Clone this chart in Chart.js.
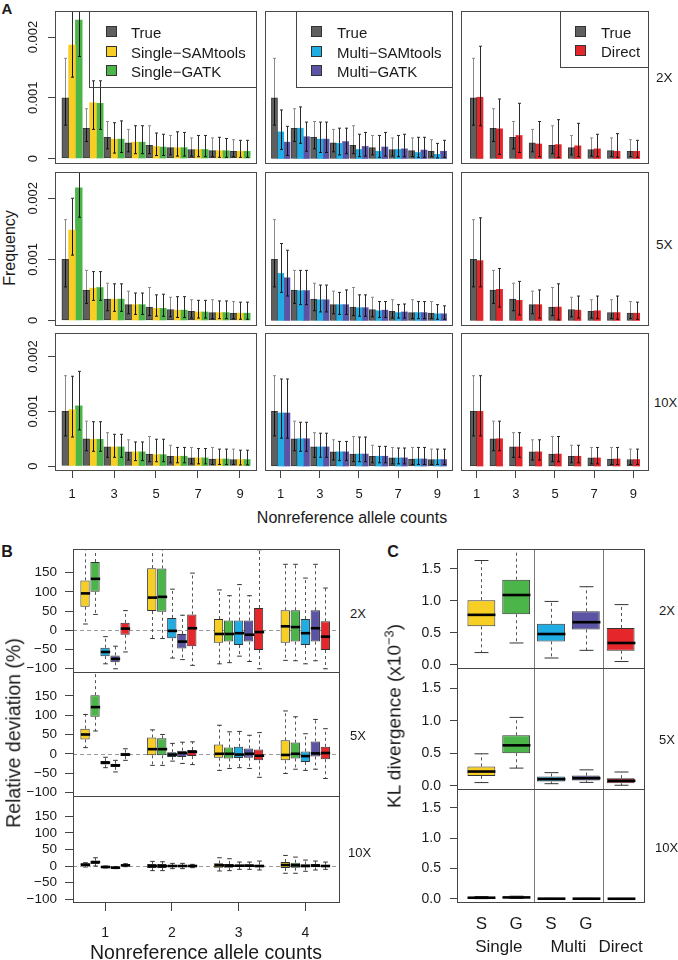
<!DOCTYPE html>
<html>
<head>
<meta charset="utf-8">
<title>Allele frequency spectrum comparison</title>
<script src="https://cdn.jsdelivr.net/npm/chart.js@4.4.1/dist/chart.umd.min.js"></script>
<style>
  html, body { margin: 0; padding: 0; background: #ffffff; }
  #wrap { position: relative; width: 678px; height: 960px; overflow: hidden; background: #ffffff;
          font-family: "Liberation Sans", Arial, Helvetica, sans-serif; color: #1a1a1a; }
  #wrap canvas { position: absolute; }
  .t { position: absolute; white-space: nowrap; line-height: 1; }
  .c { transform: translate(-50%, -50%); }
  .l { transform: translate(0, -50%); }
  .r90 { transform: translate(-50%, -50%) rotate(-90deg); }
  .legend { position: absolute; border: 1px solid #444; box-sizing: border-box; }
  .legend .sw { position: absolute; width: 11px; height: 11px; border: 1px solid #333; box-sizing: border-box; }
  .legend .lt { position: absolute; font-size: 15px; line-height: 1; transform: translate(0, -50%); white-space: nowrap; }
  sup { font-size: 0.68em; line-height: 0; vertical-align: 0.55em; }
</style>
</head>
<body>
<div id="wrap"></div>
<script>
// ======================= DATA =======================
// Panel A: x categories and axis ticks
const alleleCounts = [1, 2, 3, 4, 5, 6, 7, 8, 9];
const freqTicks = [0, 0.001, 0.002];
const freqTickLabels = ['0', '0.001', '0.002'];
const countTicks = [1, 3, 5, 7, 9];
const countTickLabels = ['1', '3', '5', '7', '9'];
const depthLabels = ['2X', '5X', '10X'];
const legendSingle = ['True', 'Single\u2212SAMtools', 'Single\u2212GATK'];
const legendMulti = ['True', 'Multi\u2212SAMtools', 'Multi\u2212GATK'];
const legendDirect = ['True', 'Direct'];

// True frequencies (mean, lower, upper)
const trueFreq = [0.00100, 0.00050, 0.00035, 0.00026, 0.00022, 0.00018, 0.00015, 0.00013, 0.00012];
const trueLo   = [0.00055, 0.00028, 0.00016, 0.00011, 0.00008, 0.00006, 0.00004, 0.00003, 0.00003];
const trueHi   = [0.00165, 0.00082, 0.00061, 0.00048, 0.00054, 0.00038, 0.00034, 0.00034, 0.00031];

// Single-SAMtools
const singleSam2X   = [0.00187, 0.00092, 0.00032, 0.00027, 0.00020, 0.00018, 0.00015, 0.00013, 0.00012];
const singleSam2XLo = [0.00134, 0.00048, 0.00009, 0.00008, 0.00005, 0.00004, 0.00003, 0.00002, 0.00002];
const singleSam2XHi = [0.00270, 0.00128, 0.00059, 0.00054, 0.00042, 0.00044, 0.00038, 0.00035, 0.00030];
const singleSam5X   = [0.00148, 0.00053, 0.00035, 0.00026, 0.00020, 0.00017, 0.00014, 0.00013, 0.00012];
const singleSam5XLo = [0.00107, 0.00033, 0.00015, 0.00010, 0.00007, 0.00005, 0.00004, 0.00003, 0.00002];
const singleSam5XHi = [0.00200, 0.00080, 0.00060, 0.00045, 0.00042, 0.00039, 0.00033, 0.00032, 0.00030];
const singleSam10X   = [0.00103, 0.00049, 0.00035, 0.00026, 0.00021, 0.00018, 0.00015, 0.00013, 0.00012];
const singleSam10XLo = [0.00053, 0.00027, 0.00016, 0.00010, 0.00008, 0.00006, 0.00004, 0.00003, 0.00002];
const singleSam10XHi = [0.00164, 0.00081, 0.00058, 0.00044, 0.00049, 0.00034, 0.00032, 0.00031, 0.00029];

// Single-GATK
const singleGatk2X   = [0.00228, 0.00091, 0.00032, 0.00027, 0.00019, 0.00018, 0.00015, 0.00013, 0.00012];
const singleGatk2XLo = [0.00168, 0.00048, 0.00010, 0.00008, 0.00005, 0.00004, 0.00003, 0.00002, 0.00002];
const singleGatk2XHi = [0.00300, 0.00128, 0.00062, 0.00054, 0.00040, 0.00043, 0.00038, 0.00033, 0.00030];
const singleGatk5X   = [0.00217, 0.00054, 0.00035, 0.00026, 0.00020, 0.00017, 0.00014, 0.00013, 0.00012];
const singleGatk5XLo = [0.00169, 0.00033, 0.00015, 0.00010, 0.00007, 0.00005, 0.00004, 0.00003, 0.00002];
const singleGatk5XHi = [0.00270, 0.00080, 0.00060, 0.00045, 0.00043, 0.00039, 0.00033, 0.00032, 0.00030];
const singleGatk10X   = [0.00110, 0.00049, 0.00035, 0.00026, 0.00021, 0.00018, 0.00015, 0.00013, 0.00012];
const singleGatk10XLo = [0.00066, 0.00027, 0.00016, 0.00010, 0.00008, 0.00006, 0.00004, 0.00003, 0.00002];
const singleGatk10XHi = [0.00173, 0.00081, 0.00058, 0.00044, 0.00049, 0.00034, 0.00032, 0.00031, 0.00029];

// Multi-SAMtools
const multiSam2X   = [0.00044, 0.00050, 0.00032, 0.00025, 0.00015, 0.00012, 0.00015, 0.00010, 0.00007];
const multiSam2XLo = [0.00015, 0.00025, 0.00010, 0.00006, 0.00003, 0.00002, 0.00003, 0.00002, 0.00001];
const multiSam2XHi = [0.00080, 0.00085, 0.00060, 0.00050, 0.00040, 0.00038, 0.00038, 0.00035, 0.00025];
const multiSam5X   = [0.00077, 0.00049, 0.00034, 0.00026, 0.00021, 0.00016, 0.00013, 0.00013, 0.00011];
const multiSam5XLo = [0.00046, 0.00026, 0.00014, 0.00010, 0.00007, 0.00005, 0.00004, 0.00003, 0.00002];
const multiSam5XHi = [0.00126, 0.00082, 0.00058, 0.00046, 0.00042, 0.00031, 0.00026, 0.00031, 0.00026];
const multiSam10X   = [0.00097, 0.00050, 0.00035, 0.00026, 0.00022, 0.00018, 0.00015, 0.00013, 0.00012];
const multiSam10XLo = [0.00051, 0.00027, 0.00016, 0.00010, 0.00008, 0.00006, 0.00004, 0.00003, 0.00003];
const multiSam10XHi = [0.00159, 0.00080, 0.00060, 0.00045, 0.00053, 0.00036, 0.00033, 0.00034, 0.00031];

// Multi-GATK
const multiGatk2X   = [0.00027, 0.00036, 0.00032, 0.00028, 0.00020, 0.00019, 0.00016, 0.00014, 0.00012];
const multiGatk2XLo = [0.00005, 0.00012, 0.00010, 0.00008, 0.00004, 0.00004, 0.00003, 0.00002, 0.00002];
const multiGatk2XHi = [0.00053, 0.00060, 0.00060, 0.00050, 0.00043, 0.00043, 0.00040, 0.00035, 0.00030];
const multiGatk5X   = [0.00070, 0.00049, 0.00034, 0.00026, 0.00021, 0.00017, 0.00014, 0.00013, 0.00011];
const multiGatk5XLo = [0.00040, 0.00026, 0.00014, 0.00010, 0.00007, 0.00005, 0.00004, 0.00003, 0.00002];
const multiGatk5XHi = [0.00115, 0.00082, 0.00058, 0.00050, 0.00042, 0.00031, 0.00027, 0.00031, 0.00024];
const multiGatk10X   = [0.00097, 0.00050, 0.00035, 0.00026, 0.00022, 0.00018, 0.00015, 0.00013, 0.00012];
const multiGatk10XLo = [0.00051, 0.00027, 0.00016, 0.00010, 0.00008, 0.00006, 0.00004, 0.00003, 0.00003];
const multiGatk10XHi = [0.00159, 0.00080, 0.00060, 0.00045, 0.00053, 0.00036, 0.00033, 0.00034, 0.00031];

// Direct
const direct2X   = [0.00101, 0.00049, 0.00038, 0.00024, 0.00023, 0.00021, 0.00016, 0.00012, 0.00012];
const direct2XLo = [0.00054, 0.00007, 0.00010, 0.00003, 0.00002, 0.00003, 0.00003, 0.00002, 0.00002];
const direct2XHi = [0.00185, 0.00098, 0.00091, 0.00061, 0.00064, 0.00058, 0.00040, 0.00041, 0.00030];
const direct5X   = [0.00098, 0.00051, 0.00033, 0.00026, 0.00022, 0.00017, 0.00016, 0.00013, 0.00012];
const direct5XLo = [0.00055, 0.00022, 0.00009, 0.00004, 0.00001, 0.00004, 0.00003, 0.00002, 0.00002];
const direct5XHi = [0.00168, 0.00085, 0.00064, 0.00050, 0.00060, 0.00040, 0.00040, 0.00040, 0.00030];
const direct10X   = [0.00100, 0.00050, 0.00035, 0.00026, 0.00022, 0.00018, 0.00015, 0.00013, 0.00012];
const direct10XLo = [0.00055, 0.00028, 0.00016, 0.00011, 0.00008, 0.00006, 0.00004, 0.00003, 0.00003];
const direct10XHi = [0.00165, 0.00082, 0.00061, 0.00048, 0.00054, 0.00038, 0.00034, 0.00034, 0.00031];

// Panel B: relative deviation (%) boxplots, per allele count 1..4: [whiskerLow, Q1, median, Q3, whiskerHigh]
const devCounts = [1, 2, 3, 4];
const devTicks = [-100, -50, 0, 50, 100, 150];
const devTickLabels = ['\u2212100', '\u221250', '0', '50', '100', '150'];
const devSingleSam2X  = [[16, 61, 96, 130, 260], [-22, 50, 85, 162, 260], [-88, -33, -10, 29, 105], [-79, -33, 10, 52, 172]];
const devSingleGatk2X = [[41, 100, 134, 178, 260], [-22, 48, 87, 161, 260], [-85, -30, -10, 25, 90], [-80, -30, 8, 52, 172]];
const devMultiSam2X   = [[-88, -68, -57, -46, -17], [-73, -21, -2, 32, 107], [-68, -39, -8, 25, 119], [-88, -39, -8, 29, 136]];
const devMultiGatk2X  = [[-101, -84, -75, -66, -42], [-77, -48, -30, -10, 39], [-82, -30, -12, 25, 90], [-80, -30, 5, 52, 172]];
const devDirect2X     = [[-57, -12, 4, 19, 51], [-92, -42, 5, 41, 149], [-101, -52, -5, 58, 210], [-101, -52, -17, 23, 110]];
const devSingleSam5X  = [[16, 37, 50, 65, 102], [-30, -4, 12, 42, 62], [-43, -10, 0, 24, 74], [-51, -17, -3, 35, 111]];
const devSingleGatk5X = [[59, 96, 121, 152, 230], [-30, -4, 12, 40, 50], [-38, -12, 0, 16, 57], [-40, -12, 0, 29, 96]];
const devMultiSam5X   = [[-36, -28, -23, -19, -9], [-19, -8, -2, 4, 27], [-36, -11, -2, 18, 58], [-43, -21, -6, 6, 52]];
const devMultiGatk5X  = [[-47, -34, -30, -26, -17], [-25, -8, 2, 8, 30], [-38, -10, 0, 14, 48], [-40, -7, 1, 32, 89]];
const devDirect5X     = [[-17, -6, -2, 3, 13], [-28, -6, 5, 10, 31], [-61, -17, -5, 11, 55], [-64, -14, 2, 18, 65]];
const devSingleSam10X  = [[-3, 0, 4, 8, 10], [-14, -6, 0, 6, 14], [-15, -5, 2, 8, 25], [-22, -6, 3, 12, 32]];
const devSingleGatk10X = [[0, 6, 12, 16, 25], [-14, -6, 0, 6, 13], [-14, -5, 1, 6, 22], [-22, -5, 2, 10, 27]];
const devMultiSam10X   = [[-6, -5, -3, -1, 0], [-8, -3, 0, 3, 8], [-10, -3, 1, 4, 12], [-16, -4, 0, 5, 18]];
const devMultiGatk10X  = [[-8, -7, -5, -3, -2], [-8, -3, 0, 3, 8], [-10, -3, 1, 5, 12], [-12, -4, 1, 6, 15]];
const devDirect10X     = [[-2, 0, 2, 4, 7], [-5, -2, 0, 2, 5], [-12, -4, 0, 4, 15], [-10, -3, 0, 4, 12]];

// Panel C: KL divergence (x10^-3), methods S,G (Single), S,G (Multi), Direct: [low, Q1, median, Q3, high]
const klPositions = [1, 2, 3, 4, 5];
const klTicks = [0, 0.5, 1, 1.5];
const klTickLabels = ['0.0', '0.5', '1.0', '1.5'];
const klMethodLabels = ['S', 'G', 'S', 'G'];
const klGroupLabels = ['Single', 'Multi', 'Direct'];
const kl2X  = [[0.19, 0.60, 0.78, 1.01, 1.63], [0.34, 0.79, 1.09, 1.33, 1.95], [0.105, 0.365, 0.48, 0.64, 0.99], [0.225, 0.55, 0.665, 0.835, 1.22], [0.05, 0.22, 0.34, 0.575, 0.94]];
const kl5X  = [[0.047, 0.15, 0.217, 0.295, 0.49], [0.27, 0.50, 0.62, 0.775, 1.05], [0.03, 0.062, 0.10, 0.14, 0.20], [0.05, 0.078, 0.115, 0.155, 0.243], [0.006, 0.037, 0.075, 0.115, 0.21]];
const kl10X = [[0.005, 0.012, 0.02, 0.028, 0.04], [0.008, 0.015, 0.025, 0.033, 0.045], [0.0, 0.002, 0.004, 0.006, 0.009], [0.0, 0.002, 0.004, 0.006, 0.009], [0.0, 0.002, 0.003, 0.005, 0.008]];

// ======================= STYLE =======================
const FONT = '"Liberation Sans", Arial, Helvetica, sans-serif';
const COL = { trueC: '#5f5f5f', singleSam: '#F6CE24', singleGatk: '#4CB54A', multiSam: '#1FADE3', multiGatk: '#5B54A4', direct: '#E5262B' };
Chart.defaults.font.family = FONT;
Chart.defaults.color = '#1a1a1a';

const wrap = document.getElementById('wrap');

// ======================= PLUGINS =======================
function framePlugin(color) {
  return { id: 'frame', afterDraw(chart) {
    const a = chart.chartArea, c = chart.ctx;
    c.save(); c.strokeStyle = color; c.lineWidth = 1;
    c.strokeRect(a.left + 0.5, a.top + 0.5, a.right - a.left - 1, a.bottom - a.top - 1);
    c.restore();
  } };
}

const errorBarPlugin = { id: 'errorBars', afterDatasetsDraw(chart) {
  const c = chart.ctx, a = chart.chartArea, ys = chart.scales.y;
  c.save(); c.beginPath(); c.rect(a.left, a.top, a.right - a.left, a.bottom - a.top); c.clip();
  c.lineWidth = 1;
  chart.data.datasets.forEach((ds, di) => {
    if (!ds.errLo) return;
    chart.getDatasetMeta(di).data.forEach((el, i) => {
      const x = Math.round(el.x) + 0.5;
      const yv = ys.getPixelForValue(ds.data[i].y);
      const y1 = ys.getPixelForValue(ds.errLo[i]), y2 = ys.getPixelForValue(ds.errHi[i]);
      c.strokeStyle = ds.errUp;
      c.beginPath(); c.moveTo(x, yv); c.lineTo(x, y2); c.moveTo(x - 1.5, y2); c.lineTo(x + 1.5, y2); c.stroke();
      c.strokeStyle = '#111';
      c.beginPath(); c.moveTo(x, yv); c.lineTo(x, y1); c.moveTo(x - 1.5, y1); c.lineTo(x + 1.5, y1); c.stroke();
    });
  });
  c.restore();
} };

function rotYLabels(labels, offset, size) {
  return { id: 'rotY', afterDraw(chart) {
    const s = chart.scales.y, c = chart.ctx, a = chart.chartArea;
    c.save(); c.fillStyle = '#1a1a1a'; c.font = size + 'px ' + FONT;
    c.textAlign = 'center'; c.textBaseline = 'middle';
    s.ticks.forEach((t, i) => {
      const y = s.getPixelForValue(t.value);
      c.save(); c.translate(a.left - offset, y); c.rotate(-Math.PI / 2); c.fillText(labels[i], 0, 0); c.restore();
    });
    c.restore();
  } };
}

function boxPlugin(staple, dash) {
  return { id: 'boxWhisk', afterDatasetsDraw(chart) {
    const c = chart.ctx, a = chart.chartArea, ys = chart.scales.y;
    c.save(); c.beginPath(); c.rect(a.left, a.top, a.right - a.left, a.bottom - a.top); c.clip();
    chart.data.datasets.forEach((ds, di) => {
      if (!ds.box) return;
      chart.getDatasetMeta(di).data.forEach((el, i) => {
        const t = ds.box[i];
        const x = Math.round(el.x) + 0.5, w = el.width;
        const p = t.map(v => ys.getPixelForValue(v));
        c.lineWidth = 1; c.strokeStyle = '#555'; c.setLineDash(dash);
        c.beginPath(); c.moveTo(x, p[3]); c.lineTo(x, p[4]); c.moveTo(x, p[1]); c.lineTo(x, p[0]); c.stroke();
        c.setLineDash([]); c.strokeStyle = '#333';
        const sw = w * staple / 2;
        c.beginPath(); c.moveTo(x - sw, p[4]); c.lineTo(x + sw, p[4]); c.moveTo(x - sw, p[0]); c.lineTo(x + sw, p[0]); c.stroke();
        c.lineWidth = 2.6; c.strokeStyle = '#000';
        c.beginPath(); c.moveTo(x - w / 2, p[2]); c.lineTo(x + w / 2, p[2]); c.stroke();
      });
    });
    c.restore();
  } };
}

function refLines(hVals, vVals) {
  return { id: 'refLines', beforeDatasetsDraw(chart) {
    const c = chart.ctx, a = chart.chartArea, xs = chart.scales.x, ys = chart.scales.y;
    c.save(); c.lineWidth = 1;
    c.strokeStyle = '#9a9a9a'; c.setLineDash([4, 3]);
    hVals.forEach(v => { const y = Math.round(ys.getPixelForValue(v)) + 0.5; c.beginPath(); c.moveTo(a.left, y); c.lineTo(a.right, y); c.stroke(); });
    c.setLineDash([]); c.strokeStyle = '#7a7a7a';
    vVals.forEach(v => { const x = Math.round(xs.getPixelForValue(v)) + 0.5; c.beginPath(); c.moveTo(x, a.top); c.lineTo(x, a.bottom); c.stroke(); });
    c.restore();
  } };
}

// ======================= HELPERS =======================
function place(frame, lm, bm) {
  const w = frame[2] - frame[0], h = frame[3] - frame[1];
  const cv = document.createElement('canvas');
  const W = w + lm + 2, H = h + bm + 2;
  cv.width = W; cv.height = H;
  cv.style.left = (frame[0] - lm - 1) + 'px';
  cv.style.top = (frame[1] - 1) + 'px';
  cv.style.width = W + 'px'; cv.style.height = H + 'px';
  wrap.appendChild(cv);
  return cv;
}

function linAxis(o) {
  const hasTicks = !!o.tickLen;
  return {
    type: 'linear', position: o.position, min: o.min, max: o.max, offset: false, weight: o.weight || 0,
    display: true, border: { display: false },
    grid: { display: hasTicks, drawOnChartArea: false, drawTicks: hasTicks, tickLength: o.tickLen || 0,
            color: '#444', lineWidth: 1, offset: false },
    ticks: { display: !!o.labels, autoSkip: false, maxRotation: 0, minRotation: 0, padding: o.pad || 0,
             font: { size: o.font || 13, family: FONT }, color: '#1a1a1a',
             callback: (v, i) => (o.labels ? o.labels[i] : '') },
    afterBuildTicks: s => { s.ticks = o.ticks.map(v => ({ value: v })); },
    afterFit: s => {
      if (o.position === 'left') s.width = o.size; else s.height = o.size;
      s.paddingTop = 0; s.paddingBottom = 0; s.paddingLeft = 0; s.paddingRight = 0;
    }
  };
}

function build(cv, datasets, scales, plugins) {
  return new Chart(cv.getContext('2d'), {
    type: 'bar',
    data: { datasets },
    options: {
      responsive: false, animation: false, devicePixelRatio: 1, events: [],
      layout: { padding: { left: 1, right: 1, top: 1, bottom: 1 }, autoPadding: false },
      plugins: { legend: { display: false }, tooltip: { enabled: false } },
      scales
    },
    plugins
  });
}

function text(str, x, y, cls, size, extra) {
  const d = document.createElement('div');
  d.className = 't ' + cls;
  d.style.left = x + 'px'; d.style.top = y + 'px'; d.style.fontSize = size + 'px';
  if (extra) Object.assign(d.style, extra);
  d.innerHTML = str;
  wrap.appendChild(d);
}

function legend(x, y, w, h, names, colors, swX, txtX, rows) {
  const box = document.createElement('div');
  box.className = 'legend';
  Object.assign(box.style, { left: x + 'px', top: y + 'px', width: w + 'px', height: h + 'px' });
  names.forEach((n, i) => {
    const sw = document.createElement('div'); sw.className = 'sw';
    Object.assign(sw.style, { left: swX + 'px', top: (rows[i] - 6) + 'px', background: colors[i] });
    const lt = document.createElement('div'); lt.className = 'lt';
    Object.assign(lt.style, { left: txtX + 'px', top: rows[i] + 'px' });
    lt.textContent = n;
    box.appendChild(sw); box.appendChild(lt);
  });
  wrap.appendChild(box);
}

// ======================= PANEL A =======================
const colX = [[55, 257], [265, 453], [461, 649]];
const rowY = [[11, 164], [172, 326], [333, 471]];
const xRangeA = [[0.19, 9.81], [0.2, 9.8], [0.2, 9.8]];
const catPctA = [0.97, 0.95, 0.65];

const T = { val: trueFreq, lo: trueLo, hi: trueHi, color: COL.trueC, up: '#8a8a8a', border: '#3a3a3a' };
const S = (val, lo, hi, color) => ({ val, lo, hi, color, up: '#2a2a2a' });
const panelsA = [
  [[T, S(singleSam2X, singleSam2XLo, singleSam2XHi, COL.singleSam), S(singleGatk2X, singleGatk2XLo, singleGatk2XHi, COL.singleGatk)],
   [T, S(multiSam2X, multiSam2XLo, multiSam2XHi, COL.multiSam), S(multiGatk2X, multiGatk2XLo, multiGatk2XHi, COL.multiGatk)],
   [T, S(direct2X, direct2XLo, direct2XHi, COL.direct)]],
  [[T, S(singleSam5X, singleSam5XLo, singleSam5XHi, COL.singleSam), S(singleGatk5X, singleGatk5XLo, singleGatk5XHi, COL.singleGatk)],
   [T, S(multiSam5X, multiSam5XLo, multiSam5XHi, COL.multiSam), S(multiGatk5X, multiGatk5XLo, multiGatk5XHi, COL.multiGatk)],
   [T, S(direct5X, direct5XLo, direct5XHi, COL.direct)]],
  [[T, S(singleSam10X, singleSam10XLo, singleSam10XHi, COL.singleSam), S(singleGatk10X, singleGatk10XLo, singleGatk10XHi, COL.singleGatk)],
   [T, S(multiSam10X, multiSam10XLo, multiSam10XHi, COL.multiSam), S(multiGatk10X, multiGatk10XLo, multiGatk10XHi, COL.multiGatk)],
   [T, S(direct10X, direct10XLo, direct10XHi, COL.direct)]]
];

for (let r = 0; r < 3; r++) {
  for (let c = 0; c < 3; c++) {
    const frame = [colX[c][0], rowY[r][0], colX[c][1], rowY[r][1]];
    const lm = c === 0 ? 30 : 0, bm = r === 2 ? 34 : 0;
    const cv = place(frame, lm, bm);
    const datasets = panelsA[r][c].map(s => ({
      data: alleleCounts.map((x, i) => ({ x, y: s.val[i] })),
      errLo: s.lo, errHi: s.hi, errUp: s.up,
      backgroundColor: s.color, borderColor: s.border || s.color, borderWidth: s.border ? 1 : 0,
      borderSkipped: false, inflateAmount: 0.3, categoryPercentage: catPctA[c], barPercentage: 1,
      xAxisID: 'x', yAxisID: 'y'
    }));
    const scales = {
      x: linAxis({ position: 'bottom', min: xRangeA[c][0], max: xRangeA[c][1], ticks: countTicks,
                   labels: r === 2 ? countTickLabels : null, tickLen: r === 2 ? 7 : 0, pad: 9, font: 13, size: bm }),
      y: linAxis({ position: 'left', min: -0.00009, max: 0.00243, ticks: freqTicks, labels: null,
                   tickLen: c === 0 ? 7 : 0, size: lm })
    };
    const plugins = [errorBarPlugin, framePlugin('#4a4a4a')];
    if (c === 0) plugins.push(rotYLabels(freqTickLabels, 22, 13));
    build(cv, datasets, scales, plugins);
  }
}

// ======================= PANEL B =======================
const bRows = [[549, 673], [672, 797], [796, 903]];
const bSets = [
  [devSingleSam2X, devSingleGatk2X, devMultiSam2X, devMultiGatk2X, devDirect2X],
  [devSingleSam5X, devSingleGatk5X, devMultiSam5X, devMultiGatk5X, devDirect5X],
  [devSingleSam10X, devSingleGatk10X, devMultiSam10X, devMultiGatk10X, devDirect10X]
];
const methodColors = [COL.singleSam, COL.singleGatk, COL.multiSam, COL.multiGatk, COL.direct];

for (let r = 0; r < 3; r++) {
  const frame = [73, bRows[r][0], 340, bRows[r][1]];
  const lm = 50, bm = r === 2 ? 45 : 0;
  const cv = place(frame, lm, bm);
  const datasets = bSets[r].map((box, k) => ({
    data: devCounts.map((x, g) => ({ x, y: [box[g][1], box[g][3]] })),
    box, backgroundColor: methodColors[k], borderColor: '#333', borderWidth: 1,
    borderSkipped: false, inflateAmount: 0, categoryPercentage: 0.75, barPercentage: 0.93,
    xAxisID: 'x', yAxisID: 'y'
  }));
  const scales = {
    x: linAxis({ position: 'bottom', min: 0.52, max: 4.52, ticks: devCounts,
                 labels: r === 2 ? devCounts.map(String) : null, tickLen: r === 2 ? 8 : 0, pad: 14, font: 14, size: bm }),
    y: linAxis({ position: 'left', min: -112, max: 212, ticks: devTicks, labels: devTickLabels,
                 tickLen: 8, pad: 8, font: 13.5, size: lm })
  };
  build(cv, datasets, scales, [refLines([0], []), boxPlugin(0.5, [3, 3]), framePlugin('#444')]);
}

// ======================= PANEL C =======================
const cRows = [[549, 669], [668, 790], [789, 903]];
const klSets = [kl2X, kl5X, kl10X];
for (let r = 0; r < 3; r++) {
  const frame = [457, cRows[r][0], 645, cRows[r][1]];
  const lm = 45, bm = r === 2 ? 56 : 0;
  const cv = place(frame, lm, bm);
  const box = klSets[r];
  const datasets = [{
    data: klPositions.map((x, i) => ({ x, y: [box[i][1], box[i][3]] })),
    box, backgroundColor: methodColors, borderColor: '#333', borderWidth: 1,
    borderSkipped: false, inflateAmount: 0, categoryPercentage: 1, barPercentage: 0.8,
    xAxisID: 'x', yAxisID: 'y'
  }];
  const scales = {
    x: linAxis({ position: 'bottom', min: 0.3, max: 5.7, ticks: [1, 2, 3, 4],
                 labels: r === 2 ? klMethodLabels : null, tickLen: 0, pad: 11, font: 17, size: r === 2 ? 32 : 0, weight: 0 }),
    y: linAxis({ position: 'left', min: -0.067, max: 1.81, ticks: klTicks, labels: klTickLabels,
                 tickLen: 7, pad: 9, font: 14, size: lm })
  };
  if (r === 2) {
    scales.x2 = linAxis({ position: 'bottom', min: 0.3, max: 5.7, ticks: [1.5, 3.5, 5],
                          labels: klGroupLabels, tickLen: 0, pad: 2, font: 17, size: 24, weight: 1 });
  }
  build(cv, datasets, scales, [refLines([], [2.5, 4.5]), boxPlugin(0.5, [3, 3]), framePlugin('#444')]);
}

// ======================= TEXT / LEGENDS =======================
legend(89, 11, 168, 77, legendSingle, [COL.trueC, COL.singleSam, COL.singleGatk], 16, 41, [20, 39.5, 59]);
legend(296, 11, 157, 77, legendMulti, [COL.trueC, COL.multiSam, COL.multiGatk], 14, 40, [20, 39.5, 59]);
legend(560, 11, 89, 57, legendDirect, [COL.trueC, COL.direct], 14, 40, [20, 39]);

text('A', 7, 8, 'c', 15, { fontWeight: 'bold' });
text('B', 7, 552, 'c', 16, { fontWeight: 'bold' });
text('C', 393, 552, 'c', 16, { fontWeight: 'bold' });

text('Frequency', 9.5, 248, 'r90', 16);
text(depthLabels[0], 656, 78, 'l', 13.5);
text(depthLabels[1], 656, 245, 'l', 13.5);
text(depthLabels[2], 654, 402, 'l', 13);
text('Nonreference allele counts', 352, 518, 'c', 16);

text('Relative deviation (%)', 14, 733, 'r90', 19.5);
text(depthLabels[0], 350, 613, 'l', 13);
text(depthLabels[1], 350, 735, 'l', 13);
text(depthLabels[2], 348, 852, 'l', 13);
text('Nonreference allele counts', 206, 953, 'c', 19.5);

text('KL divergence (x10<sup>\u22123</sup>)', 394, 716, 'r90', 19);
text(depthLabels[0], 659, 610, 'l', 13);
text(depthLabels[1], 659, 739, 'l', 13);
text(depthLabels[2], 655, 847, 'l', 13);
</script>
</body>
</html>
